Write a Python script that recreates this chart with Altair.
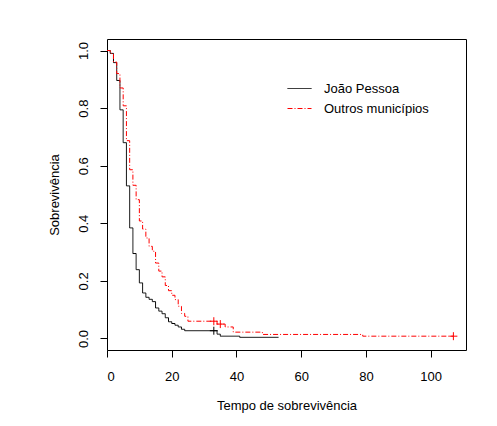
import altair as alt
import pandas as pd

FONT = "Liberation Sans"

groups = ["João Pessoa", "Outros municípios"]

jp_times = [0, 1, 2, 3, 4, 5, 6, 7, 8, 9, 10, 11, 12, 13, 14, 15, 16, 17, 18, 19, 20, 21, 22, 23, 24, 34, 35, 41, 53]
jp_surv = [1.0, 0.99, 0.958, 0.896, 0.794, 0.68, 0.53, 0.384, 0.295, 0.239, 0.193, 0.158, 0.143, 0.136, 0.128, 0.106,
           0.095, 0.086, 0.072, 0.058, 0.052, 0.046, 0.04, 0.032, 0.027, 0.015, 0.008, 0.004, 0.004]

ou_times = [0, 1, 2, 3, 4, 5, 6, 7, 8, 9, 10, 11, 12, 13, 14, 15, 16, 17, 18, 19, 20, 21, 22, 23, 24, 25,
            34, 36.5, 39, 48, 79, 107]
ou_surv = [1.0, 0.99, 0.96, 0.92, 0.87, 0.808, 0.687, 0.586, 0.532, 0.482, 0.408, 0.38, 0.349, 0.32, 0.303, 0.262,
           0.234, 0.214, 0.184, 0.166, 0.15, 0.135, 0.112, 0.087, 0.077, 0.06, 0.05, 0.04, 0.022, 0.014, 0.008, 0.008]

cens_group = ["João Pessoa", "Outros municípios", "Outros municípios", "Outros municípios"]
cens_time = [33, 33, 35, 107]
cens_surv = [0.027, 0.06, 0.05, 0.008]

x_ticks = [0, 20, 40, 60, 80, 100]
y_ticks = [0.0, 0.2, 0.4, 0.6, 0.8, 1.0]

df = pd.DataFrame({
    "grupo": [groups[0]] * len(jp_times) + [groups[1]] * len(ou_times),
    "tempo": jp_times + ou_times,
    "surv": jp_surv + ou_surv,
})
cens = pd.DataFrame({"grupo": cens_group, "tempo": cens_time, "surv": cens_surv})

xscale = alt.Scale(domain=[0, 110.9], nice=False, zero=False)
yscale = alt.Scale(domain=[-0.04, 1.04], nice=False, zero=False)
cscale = alt.Scale(domain=groups, range=["#000000", "#FF0000"])
dscale = alt.Scale(domain=groups, range=[[1, 0], [5, 2, 1, 2]])

xaxis = alt.Axis(values=x_ticks, title="Tempo de sobrevivência", grid=False, domain=False,
                 tickColor="black", tickSize=7, labelPadding=13, labelFontSize=13, labelFont=FONT,
                 labelColor="black", titleFont=FONT, titleFontSize=13, titleFontWeight="normal",
                 titleColor="black", titlePadding=16)
yaxis = alt.Axis(values=y_ticks, format=".1f", title="Sobrevivência", grid=False, domain=False,
                 tickColor="black", tickSize=7, labelAngle=-90, labelAlign="center", labelBaseline="bottom",
                 labelPadding=10, labelFontSize=13, labelFont=FONT, labelColor="black",
                 titleFont=FONT, titleFontSize=13, titleFontWeight="normal", titleColor="black",
                 titlePadding=16)

legend = alt.Legend(orient="none", legendX=180, legendY=37, symbolType="stroke",
                    symbolSize=576, symbolStrokeWidth=1, labelFontSize=13,
                    labelFont=FONT, labelColor="black", labelOffset=12,
                    rowPadding=-13, labelLimit=300)

lines = alt.Chart(df).mark_line(interpolate="step-after", strokeWidth=1).encode(
    x=alt.X("tempo:Q", scale=xscale, axis=xaxis),
    y=alt.Y("surv:Q", scale=yscale, axis=yaxis),
    color=alt.Color("grupo:N", scale=cscale, title=None, legend=legend),
    strokeDash=alt.StrokeDash("grupo:N", scale=dscale, title=None, legend=legend),
    order=alt.Order("tempo:Q"),
)

marks = alt.Chart(cens).mark_point(shape="M-1,0L1,0M0,-1L0,1", filled=False, size=64, strokeWidth=1,
                                   opacity=1).encode(
    x=alt.X("tempo:Q", scale=xscale),
    y=alt.Y("surv:Q", scale=yscale),
    stroke=alt.Stroke("grupo:N", scale=cscale, legend=None),
)

chart = alt.layer(lines, marks).properties(
    width=359, height=311,
    padding={"left": 99, "top": 31, "right": 20, "bottom": 66},
    autosize="none",
    background="white",
).configure_view(stroke="black", strokeWidth=1)

chart.save("out.html", embed_options={"renderer": "svg", "actions": False})
